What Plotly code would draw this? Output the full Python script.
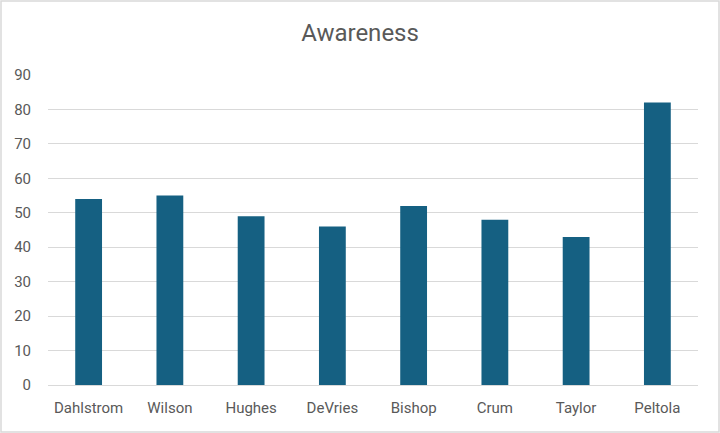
import plotly.graph_objects as go

categories = ["Dahlstrom", "Wilson", "Hughes", "DeVries", "Bishop", "Crum", "Taylor", "Peltola"]
awareness = [54, 55, 49, 46, 52, 48, 43, 82]
y_ticks = [0, 10, 20, 30, 40, 50, 60, 70, 80, 90]

W, H = 720, 433
ml, mr, mt, mb = 48, 22, 75, 48
pw, ph = W - ml - mr, H - mt - mb

fig = go.Figure(go.Bar(
    x=categories, y=awareness,
    marker=dict(color="#156082", line=dict(width=0)),
    width=0.33,
))

fig.update_layout(
    width=W, height=H,
    margin=dict(l=ml, r=mr, t=mt, b=mb),
    paper_bgcolor="white", plot_bgcolor="white",
    font=dict(family="Roboto", color="#595959", size=15),
    title=dict(text="Awareness", x=0.5, xanchor="center", y=1 - 33 / H, yanchor="middle",
               font=dict(size=24, color="#595959")),
    showlegend=False,
    xaxis=dict(showgrid=False, showline=True, linecolor="#d9d9d9", linewidth=1,
               ticks="", ticklabelstandoff=9, tickfont=dict(size=15)),
    yaxis=dict(range=[0, 90], tickvals=y_ticks, showgrid=True, gridcolor="#d9d9d9",
               gridwidth=1, zeroline=False, showline=False, ticks="",
               ticklabelstandoff=16, tickfont=dict(size=15)),
    shapes=[dict(type="rect", xref="paper", yref="paper",
                 x0=-(ml - 1) / pw, x1=1 + (mr - 1) / pw,
                 y0=-(mb - 1) / ph, y1=1 + (mt - 1) / ph,
                 line=dict(color="#d9d9d9", width=1.5), fillcolor="rgba(0,0,0,0)",
                 layer="below")],
)

fig.write_html("out.html", config={"displayModeBar": False},
               post_script="document.body.style.margin='0';document.body.style.padding='0';")
